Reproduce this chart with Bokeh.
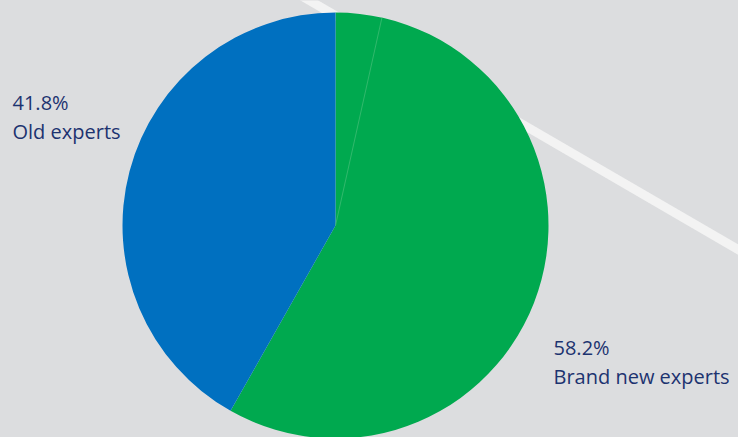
import math
from bokeh.plotting import figure
from bokeh.models import Range1d
from bokeh.core.properties import value
from bokeh.embed import file_html
from bokeh.resources import INLINE

# ---- data ----
categories = ["Brand new experts", "Old experts"]
shares = [58.2, 41.8]                 # percent
share_labels = ["58.2%", "41.8%"]
green_sub_parts = [3.5, 54.7]         # green slice is drawn as two touching parts
colors = ["#00a94f", "#0070c0"]

W, H = 738, 437
BG = "#dcdddf"

p = figure(width=W, height=H, output_backend="svg", toolbar_location=None,
           x_range=Range1d(0, W), y_range=Range1d(0, H),
           min_border=0, outline_line_color=None,
           background_fill_color=BG, border_fill_color=BG)
p.axis.visible = False
p.grid.visible = False

def Y(y):
    return H - y

# decorative white stripe behind the pie
p.line([290, 760], [Y(-11), Y(262)], line_width=9, line_color="#f3f3f3", line_alpha=0.95)

cx, cy, r = 335, Y(225), 213

# wedges: start at 12 o'clock, go clockwise
start = math.pi / 2
total = sum(shares)
for val, col in zip(shares, colors):
    end = start - 2 * math.pi * val / total
    p.wedge(x=cx, y=cy, radius=r, start_angle=start, end_angle=end,
            direction="clock", fill_color=col, line_color=None)
    start = end

# faint divider inside the green slice
a = math.pi / 2 - 2 * math.pi * green_sub_parts[0] / total
p.segment(x0=cx, y0=cy, x1=cx + r * math.cos(a), y1=cy + r * math.sin(a),
          line_color="#3dbb73", line_width=1, line_alpha=0.8)

# labels
txt_color = "#1c3370"
font = value("Open Sans")
label_pos = {"Old experts": (12, 102), "Brand new experts": (553, 347)}
for cat, lab in zip(categories, share_labels):
    x0, yb = label_pos[cat]
    p.text(x=[x0, x0], y=[Y(yb), Y(yb + 29)], text=[lab, cat],
           text_font=font, text_font_size="20px", text_color=txt_color,
           text_align="left", text_baseline="alphabetic")

html = file_html(p, INLINE)
html = html.replace("</head>", "<style>html,body{margin:0;padding:0;background:%s;overflow:hidden}</style></head>" % BG, 1)
open("out.html", "w").write(html)
